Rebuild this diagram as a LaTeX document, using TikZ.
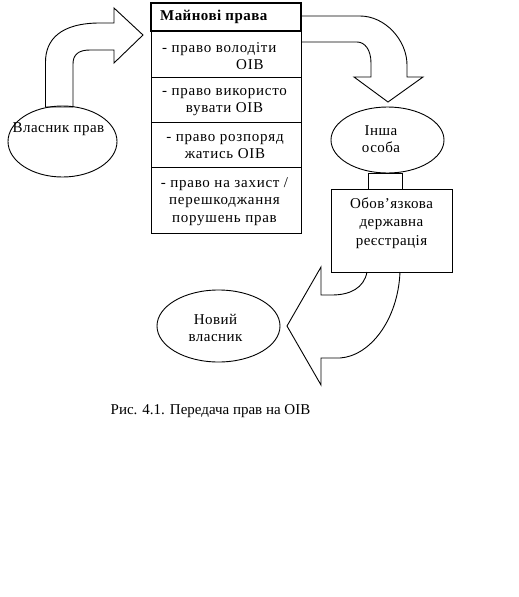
\documentclass[tikz,border=0pt]{standalone}
\usepackage{fontspec}
\setmainfont{Liberation Serif}
\begin{document}
\begin{tikzpicture}[x=1pt,y=-1pt,
  outl/.style={draw=black,line width=0.9pt},
  txt/.style={inner sep=0pt,font=\fontsize{15}{17.5}\selectfont\addfontfeatures{LetterSpace=3},align=center},
  ttxt/.style={inner sep=0pt,font=\fontsize{15}{17.5}\selectfont\addfontfeatures{LetterSpace=5},align=center}]
\useasboundingbox (0,0) rectangle (519,597);
\fill[white] (0,0) rectangle (519,597);
% table
\draw[outl] (151,3) rectangle (301,233);
\draw[outl] (151,77) -- (301,77);
\draw[outl] (151,122) -- (301,122);
\draw[outl] (151,167) -- (301,167);
\draw[line width=2.4pt] (151,3) rectangle (301,31);
\node[inner sep=0pt,anchor=west,font=\fontsize{15}{15}\selectfont\bfseries\addfontfeatures{LetterSpace=3}] (hdr) at (160,16.5) {Майнові права};
\node[ttxt,anchor=west,align=left] (r1) at (162,56) {- право володіти\\\hspace*{74pt}ОІВ};
\node[ttxt] (r2) at (224.5,102) {- право використо\\вувати ОІВ};
\node[ttxt] (r3) at (225,146.5) {- право розпоряд\\жатись ОІВ};
\node[ttxt] (r4) at (224.5,201.5) {- право на захист /\\перешкоджання\\порушень прав};
% ellipses
\draw[outl] (62.5,141.5) ellipse [x radius=54.5,y radius=35.5];
\node[txt] (owner) at (58.5,129) {Власник прав};
\draw[outl] (387.5,140) ellipse [x radius=56.5,y radius=33];
\node[txt] (other) at (381,139) {Інша\\особа};
\draw[outl] (218.5,326) ellipse [x radius=61.5,y radius=36];
\node[txt] (new) at (215.5,328) {Новий\\власник};
% registration
\draw[outl] (368,173) rectangle (402,189);
\draw[outl] (331,189) rectangle (452,272);
\node[txt,font=\fontsize{15}{18.5}\selectfont\addfontfeatures{LetterSpace=3}] (reg) at (391.5,223) {Обов’язкова\\державна\\реєстрація};
% arrows
\draw[outl,line join=miter] (45.5,107) -- (45.5,62) .. controls (45.5,40) and (60,23) .. (100,23) -- (114,23) -- (114,8) -- (143,35) -- (114,63) -- (114,50) -- (90,50) .. controls (78,50) and (73,55) .. (73,64) -- (73,107) -- cycle;
\draw[outl,line join=miter] (301,16) -- (360,16) .. controls (385,16) and (407,40) .. (407,65) -- (407,77) -- (423,77) -- (388,102) -- (354,77) -- (371,77) -- (371,63) .. controls (371,50) and (365,42) .. (357,42) -- (301,42);
\draw[outl,line join=miter] (367,272) .. controls (364,288) and (350,295) .. (332,295) -- (321,295) -- (321,267) -- (287,326) -- (321,385) -- (321,358) -- (340,358) .. controls (370,356) and (398,320) .. (400,272);
% caption
\node[inner sep=0pt,font=\fontsize{15}{17.5}\selectfont] (cap) at (210.5,411.5) {Рис. 4.1. Передача прав на ОІВ};
\end{tikzpicture}
\end{document}
